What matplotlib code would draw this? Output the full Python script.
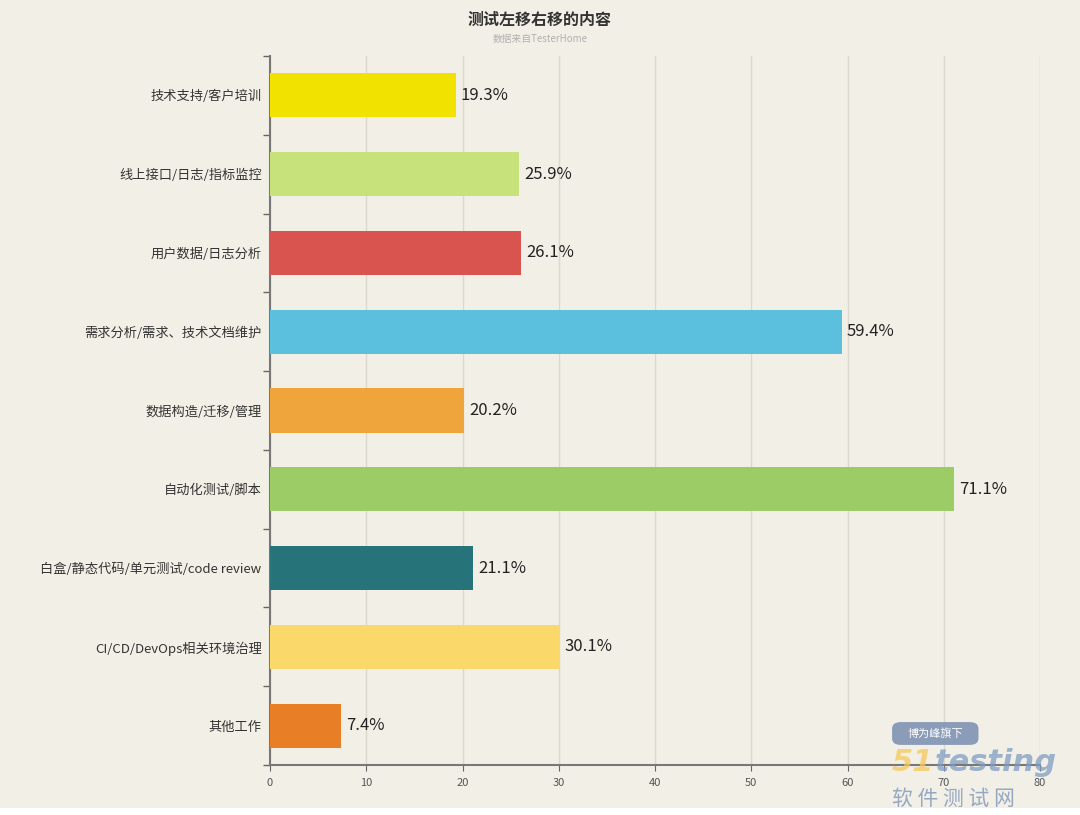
import matplotlib.pyplot as plt
from matplotlib.patches import FancyBboxPatch, Rectangle

plt.rcParams['font.family'] = ['Noto Sans CJK SC', 'DejaVu Sans']

categories = ['技术支持/客户培训', '线上接口/日志/指标监控', '用户数据/日志分析',
              '需求分析/需求、技术文档维护', '数据构造/迁移/管理', '自动化测试/脚本',
              '白盒/静态代码/单元测试/code review', 'CI/CD/DevOps相关环境治理', '其他工作']
values = [19.3, 25.9, 26.1, 59.4, 20.2, 71.1, 21.1, 30.1, 7.4]
colors = ['#f2e200', '#c7e27a', '#d9534f', '#5bc0de', '#f0a43c',
          '#9ccc65', '#26737a', '#fbd86a', '#e87e25']
xticks = [0, 10, 20, 30, 40, 50, 60, 70, 80]

bg = '#f2f0e6'
fig = plt.figure(figsize=(10.8, 8.15), dpi=100, facecolor=bg)
ax = fig.add_axes([0.25, 0.0613, 0.713, 0.87])
ax.set_facecolor(bg)

n = len(categories)
ypos = list(range(n))
ax.barh(ypos, values, height=0.56, color=colors, zorder=3)
for y, v in zip(ypos, values):
    ax.text(v + 0.5, y, f'{v}%', va='center', ha='left', fontsize=12,
            color='#222222', zorder=4)

ax.set_ylim(n - 0.5, -0.5)
ax.set_xlim(0, 80)
ax.set_xticks(xticks)
ax.set_xticklabels([str(t) for t in xticks], fontsize=8, color='#555555')
ax.set_yticks([i + 0.5 for i in range(-1, n)], minor=False)
ax.set_yticklabels([])
ax.set_yticks(ypos, minor=True)
ax.set_yticklabels(categories, minor=True, fontsize=9.5, color='#333333')
ax.tick_params(axis='y', which='minor', length=0, pad=6)
ax.tick_params(axis='y', which='major', length=5, color='#666666', width=1)
ax.tick_params(axis='x', length=4, color='#666666', pad=5)

ax.grid(axis='x', color='#dcd9cc', linewidth=1, zorder=0)
for side in ['top', 'right']:
    ax.spines[side].set_visible(False)
for side in ['left', 'bottom']:
    ax.spines[side].set_color('#777777')
    ax.spines[side].set_linewidth(1.5)

fig.text(0.5, 0.975, '测试左移右移的内容', ha='center', va='center',
         fontsize=11.5, fontweight='bold', color='#333333')
fig.text(0.5, 0.952, '数据来自TesterHome', ha='center', va='center',
         fontsize=7, color='#b0b0b0')

# bottom white strip
fig.patches.append(Rectangle((0, 0), 1, 0.009, transform=fig.transFigure,
                             facecolor='white', edgecolor='none'))

# watermark
fig.patches.append(FancyBboxPatch((0.829, 0.089), 0.074, 0.022,
                                  boxstyle='round,pad=0.003,rounding_size=0.008',
                                  transform=fig.transFigure, facecolor='#7f93b3',
                                  edgecolor='none', alpha=0.9, zorder=5))
fig.text(0.866, 0.1, '博为峰旗下', ha='center', va='center', fontsize=8,
         color='white', zorder=6)
fig.text(0.826, 0.064, '51', ha='left', va='center', fontsize=22,
         fontweight='bold', style='italic', family='DejaVu Sans',
         color='#f5c85a', alpha=0.75, zorder=6)
fig.text(0.865, 0.064, 'testing', ha='left', va='center', fontsize=22,
         fontweight='bold', style='italic', family='DejaVu Sans',
         color='#7f9cc4', alpha=0.75, zorder=6)
fig.text(0.826, 0.02, '软 件 测 试 网', ha='left', va='center', fontsize=15,
         color='#8aa0bf', alpha=0.9, zorder=6)

fig.savefig('out.png', dpi=100, facecolor=bg)
